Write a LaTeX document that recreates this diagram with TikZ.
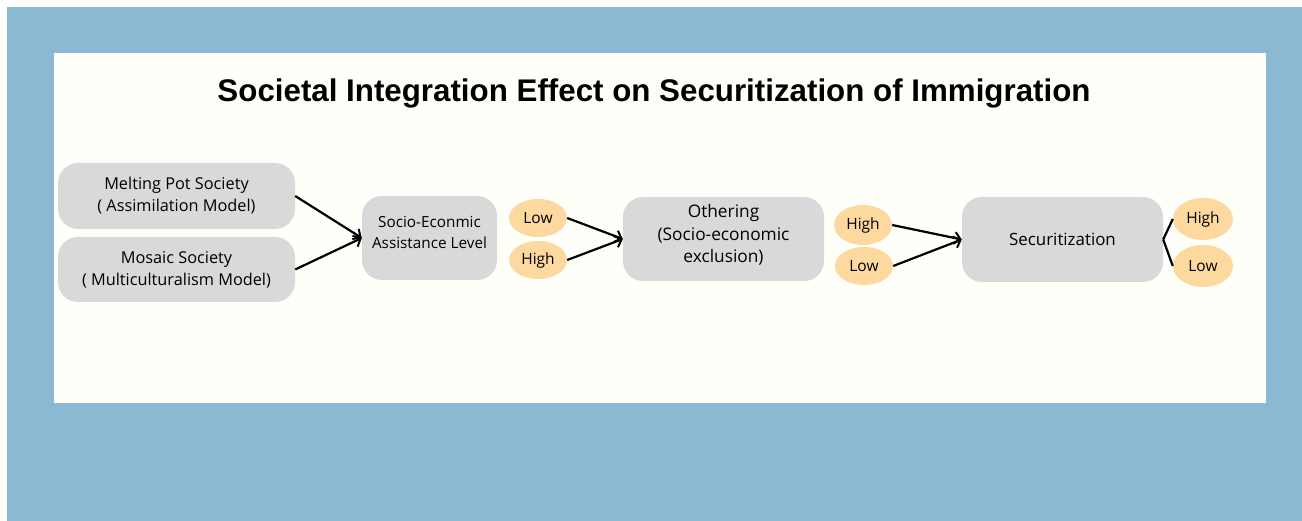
\documentclass[tikz,border=0pt]{standalone}
\usepackage{fontspec}
\setmainfont{Open Sans}
\newfontfamily\headfont{Liberation Sans}
\usetikzlibrary{arrows.meta,positioning,shapes.geometric}
\definecolor{FrameBlue}{RGB}{139,185,212}
\definecolor{PanelCream}{RGB}{254,255,249}
\definecolor{BoxGray}{RGB}{217,217,217}
\definecolor{SoftPeach}{RGB}{253,217,160}
\tikzset{
  stage/.style={fill=BoxGray,rounded corners=20pt,align=center,inner sep=0pt,
    font=\fontsize{16.3}{22}\selectfont},
  level/.style={ellipse,fill=SoftPeach,minimum width=58pt,minimum height=38pt,
    inner sep=0pt,font=\fontsize{15.5}{17}\selectfont},
  arrow/.style={-{Straight Barb[length=6pt,width=12pt,line width=2pt]},line width=2.2pt},
  link/.style={line width=2.2pt}
}
\begin{document}
\begin{tikzpicture}[x=1pt,y=-1pt]
  % frame and panel
  \fill[white] (0,0) rectangle (1302,521);
  \fill[FrameBlue] (7,7) rectangle (1302,521);
  \fill[PanelCream] (54,53) rectangle (1266,403);
  \useasboundingbox (0,0) rectangle (1302,521);

  \node[font=\headfont\bfseries\fontsize{31.3}{36}\selectfont] (title) at (654,93)
    {Societal Integration Effect on Securitization of Immigration};

  % societies
  \node[stage,minimum width=237pt,minimum height=66pt] (melt) at (176.5,196)
    {Melting Pot Society\\ ( Assimilation Model)};
  \node[stage,minimum width=237pt,minimum height=65pt] (mosaic) at (176.5,269.5)
    {Mosaic Society\\( Multiculturalism Model)};

  % middle stages
  \node[stage,font=\fontsize{15.3}{21}\selectfont,minimum width=135pt,minimum height=84pt]
    (assist) at (429.5,238) {Socio-Econmic\\Assistance Level\\[-10pt]};
  \node[level] (lowA) at (538,218) {Low};
  \node[level] (highA) at (538,260) {High};
  \node[stage,font=\fontsize{17.3}{22.5}\selectfont,minimum width=201pt,minimum height=84pt]
    (other) at (723.5,239) {Othering\\(Socio-economic\\exclusion)\\[-11.5pt]};
  \node[level,minimum height=40pt] (highB) at (863,225) {High};
  \node[level] (lowB) at (864,266) {Low};
  \node[stage,font=\fontsize{16.9}{22}\selectfont,minimum width=201pt,minimum height=85pt]
    (secur) at (1062.5,239.5) {Securitization};
  \node[level,minimum width=60pt,minimum height=42pt] (highC) at (1203,219) {High};
  \node[level,minimum width=60pt,minimum height=42pt] (lowC) at (1203,266) {Low};

  \draw[arrow] (melt.east) -- (assist.west);
  \draw[arrow] (mosaic.east) -- (assist.west);
  \draw[arrow] (lowA.east) -- (other.west);
  \draw[arrow] (highA.east) -- (other.west);
  \draw[arrow] (highB.east) -- (secur.west);
  \draw[arrow] (lowB.east) -- (secur.west);
  \draw[link] (secur.east) -- (highC.west);
  \draw[link] (secur.east) -- (lowC.west);
\end{tikzpicture}
\end{document}
